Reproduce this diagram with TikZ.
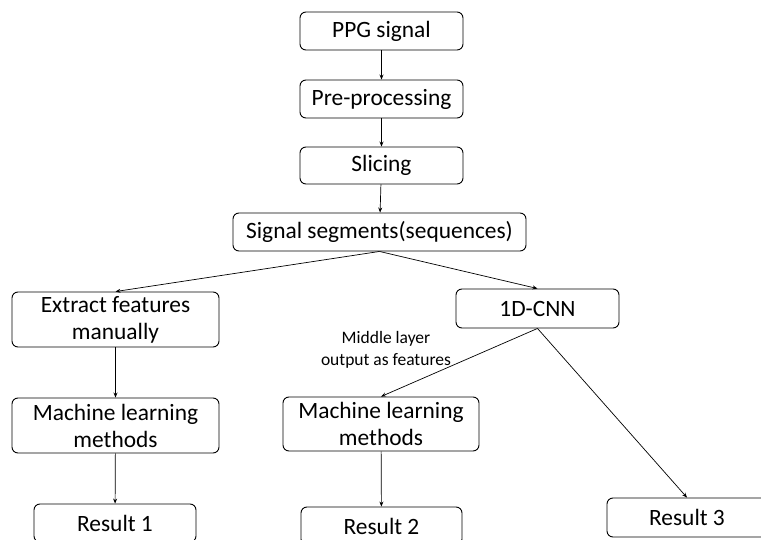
\documentclass[tikz,border=0pt]{standalone}
\usepackage{fontspec}
\setmainfont{Carlito}
\usetikzlibrary{arrows.meta}
\begin{document}
\begin{tikzpicture}[x=1pt,y=-1pt,
  box/.style={draw=black,line width=0.9pt,rounded corners=6pt,inner sep=0pt,align=center,
    font=\fontsize{23.4}{27}\selectfont},
  conn/.style={line width=0.7pt,-{Stealth[length=5pt,width=4pt]}},
  lbl/.style={inner sep=0pt,align=center,font=\fontsize{17.5}{22}\selectfont}]
\useasboundingbox (0,0) rectangle (761,540);
\node[box,minimum width=163pt,minimum height=38pt] (ppg) at (381.5,31) {PPG signal};
\node[box,minimum width=163pt,minimum height=38pt] (pre) at (381.5,99) {Pre-processing};
\node[box,minimum width=163pt,minimum height=37pt] (slc) at (381.5,165.5) {Slicing};
\node[box,minimum width=293pt,minimum height=38pt] (seg) at (379.5,232) {Signal segments(sequences)};
\node[box,minimum width=207pt,minimum height=55pt] (ext) at (115.5,319.5) {Extract features\\manually};
\node[box,minimum width=207pt,minimum height=55pt] (ml1) at (115.5,425.5) {Machine learning\\methods};
\node[box,minimum width=162pt,minimum height=38pt] (r1) at (115,523) {Result 1};
\node[box,minimum width=163pt,minimum height=39pt] (cnn) at (537.5,308.5) {1D-CNN};
\node[box,minimum width=196pt,minimum height=54pt] (ml2) at (381,424) {Machine learning\\methods};
\node[box,minimum width=161pt,minimum height=38pt] (r2) at (381.5,526) {Result 2};
\node[box,minimum width=160pt,minimum height=39pt] (r3) at (687,517.5) {Result 3};
\node[lbl] (mid) at (386,350) {Middle layer\\output as features};
\draw[conn] (ppg) -- (pre);
\draw[conn] (pre) -- (slc);
\draw[conn] (slc) -- (seg);
\draw[conn] (seg.south) -- (ext.north);
\draw[conn] (seg.south) -- (cnn.north);
\draw[conn] (ext) -- (ml1);
\draw[conn] (ml1) -- (r1);
\draw[conn] (cnn.south) -- (ml2.north);
\draw[conn] (cnn.south) -- (r3.north);
\draw[conn] (ml2) -- (r2);
\end{tikzpicture}
\end{document}
